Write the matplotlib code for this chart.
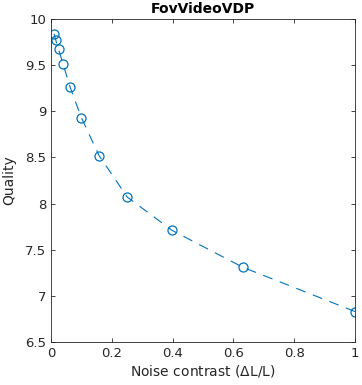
import matplotlib
matplotlib.use("Agg")
import matplotlib.pyplot as plt

noise_contrast = [0.01, 0.0158, 0.0251, 0.0398, 0.0631, 0.1, 0.158, 0.251, 0.398, 0.631, 1.0]
quality = [9.84, 9.77, 9.67, 9.51, 9.26, 8.93, 8.52, 8.07, 7.71, 7.31, 6.83]

plt.rcParams['font.family'] = ['DejaVu Sans']
plt.rcParams['font.size'] = 9

fig = plt.figure(figsize=(3.62, 3.85), dpi=100)
ax = fig.add_axes([51 / 362, 1 - 342 / 385, 304 / 362, 323 / 385])
ax.plot(noise_contrast, quality, '--o', color='#0072BD', lw=0.8,
        mfc='none', ms=6.5, mew=0.9, dashes=(9, 7))
ax.set_xlim(0, 1)
ax.set_ylim(6.5, 10)
ax.set_xticks([0, 0.2, 0.4, 0.6, 0.8, 1])
ax.set_xticklabels(['0', '0.2', '0.4', '0.6', '0.8', '1'])
ax.set_yticks([6.5, 7, 7.5, 8, 8.5, 9, 9.5, 10])
ax.set_yticklabels(['6.5', '7', '7.5', '8', '8.5', '9', '9.5', '10'])
ax.tick_params(direction='in', top=True, right=True, length=3, width=0.6,
               colors='#262626', labelsize=9.5)
for s in ax.spines.values():
    s.set_linewidth(0.6)
    s.set_color('#262626')
ax.set_xlabel('Noise contrast ($\\Delta$L/L)', fontsize=10, color='#262626', labelpad=2)
ax.set_ylabel('Quality', fontsize=10, color='#262626', labelpad=6)
ax.set_title('FovVideoVDP', fontsize=10, fontweight='bold', pad=4)
fig.savefig('out.png', dpi=100)
